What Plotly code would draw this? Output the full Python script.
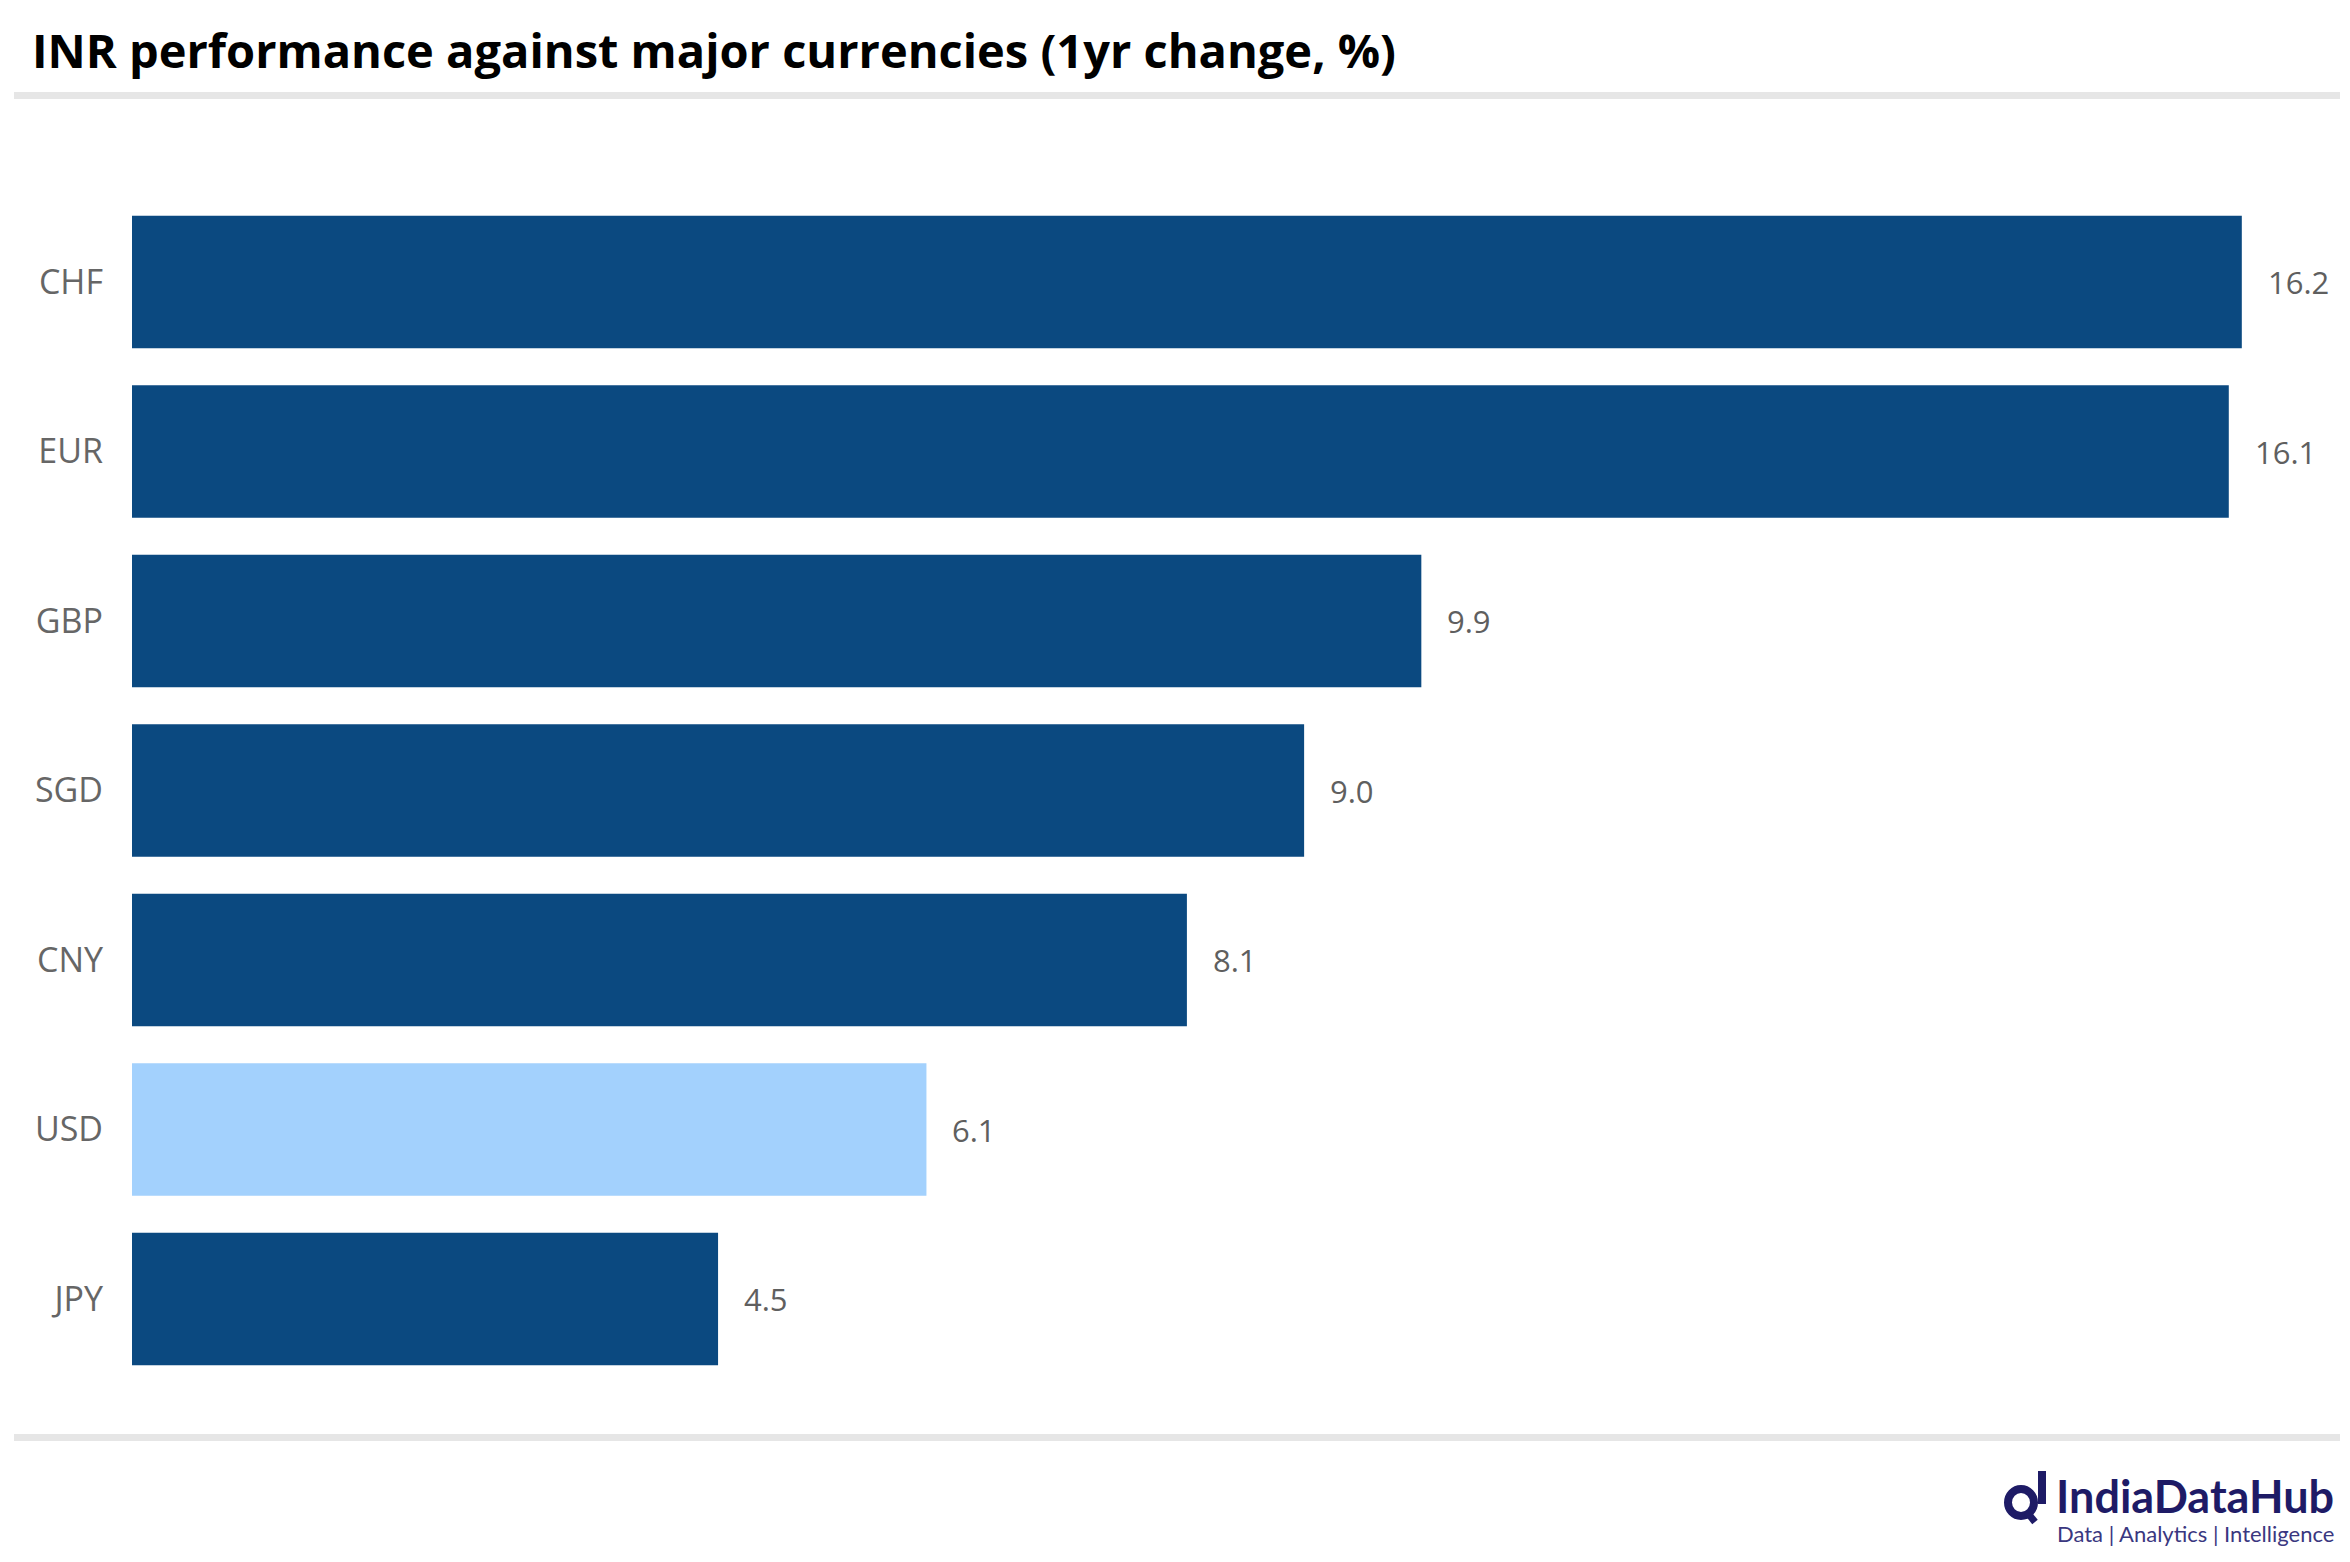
import plotly.graph_objects as go

# ---- data ----
currencies = ["CHF", "EUR", "GBP", "SGD", "CNY", "USD", "JPY"]
changes = [16.2, 16.1, 9.9, 9.0, 8.1, 6.1, 4.5]
highlight = "USD"
title_text = "INR performance against major currencies (1yr change, %)"

W, H = 2350, 1562
OFF = 8  # page body margin
DARK = "#0b4980"
LIGHT = "#a3d1fd"
NAVY = "#1e1b66"
GREY_TXT = "#5f5f5f"

def px(x):
    return (x - OFF) / W

def py(y):
    return 1 - (y - OFF) / H

colors = [LIGHT if c == highlight else DARK for c in currencies]

fig = go.Figure()
fig.add_trace(go.Bar(
    x=changes,
    y=currencies,
    orientation="h",
    marker=dict(color=colors, line=dict(width=0)),
    hoverinfo="skip",
    showlegend=False,
))

annotations = []
for c, v in zip(currencies, changes):
    annotations.append(dict(
        x=v, y=c, xref="x", yref="y",
        text=f"{v:.1f}", showarrow=False,
        xanchor="left", yanchor="middle", xshift=24,
        font=dict(family="Open Sans", size=31, color=GREY_TXT),
    ))

# title
annotations.append(dict(
    x=px(30), y=py(50), xref="paper", yref="paper",
    text=f"<b>{title_text}</b>", showarrow=False,
    xanchor="left", yanchor="middle",
    font=dict(family="Open Sans", size=47, color="#000000"),
))

# logo text
annotations.append(dict(
    x=px(2336), y=py(1496), xref="paper", yref="paper",
    text="<b>IndiaDataHub</b>", showarrow=False,
    xanchor="right", yanchor="middle",
    font=dict(family="Lato", size=45, color=NAVY),
))
annotations.append(dict(
    x=px(2336), y=py(1533), xref="paper", yref="paper",
    text="Data | Analytics | Intelligence", showarrow=False,
    xanchor="right", yanchor="middle",
    font=dict(family="Lato", size=22, color="#3a3780"),
))

shapes = [
    # top separator
    dict(type="rect", xref="paper", yref="paper",
         x0=px(14), x1=px(2340), y0=py(99), y1=py(92),
         fillcolor="#e6e6e6", line=dict(width=0)),
    # bottom separator
    dict(type="rect", xref="paper", yref="paper",
         x0=px(14), x1=px(2340), y0=py(1441), y1=py(1434),
         fillcolor="#e6e6e6", line=dict(width=0)),
    # right-edge mark
    dict(type="line", xref="paper", yref="paper",
         x0=px(2349), x1=px(2349), y0=py(8), y1=py(104),
         line=dict(color="#333333", width=1.5)),
    # logo icon: ring
    dict(type="circle", xref="paper", yref="paper",
         x0=px(2008), x1=px(2034), y0=py(1516), y1=py(1489),
         line=dict(color=NAVY, width=8)),
    # logo icon: stem
    dict(type="line", xref="paper", yref="paper",
         x0=px(2042), x1=px(2042), y0=py(1471), y1=py(1504),
         line=dict(color=NAVY, width=8)),
    # logo icon: tail
    dict(type="line", xref="paper", yref="paper",
         x0=px(2027), x1=px(2035), y0=py(1512), y1=py(1522),
         line=dict(color=NAVY, width=7)),
]

fig.update_layout(
    width=W, height=H,
    margin=dict(l=0, r=0, t=0, b=0),
    paper_bgcolor="white",
    plot_bgcolor="white",
    bargap=0.217,
    annotations=annotations,
    shapes=shapes,
    xaxis=dict(
        domain=[px(132), px(2346)],
        range=[0, 17],
        showgrid=False, zeroline=False, showline=False,
        showticklabels=False, ticks="",
        fixedrange=True,
    ),
    yaxis=dict(
        domain=[py(1383.75), py(197.25)],
        type="category",
        categoryorder="array",
        categoryarray=currencies,
        autorange="reversed",
        showgrid=False, zeroline=False, showline=False,
        ticks="", ticklabelstandoff=28,
        tickfont=dict(family="Open Sans", size=34, color="#666666"),
        fixedrange=True,
    ),
)

fig.write_html("out.html")
